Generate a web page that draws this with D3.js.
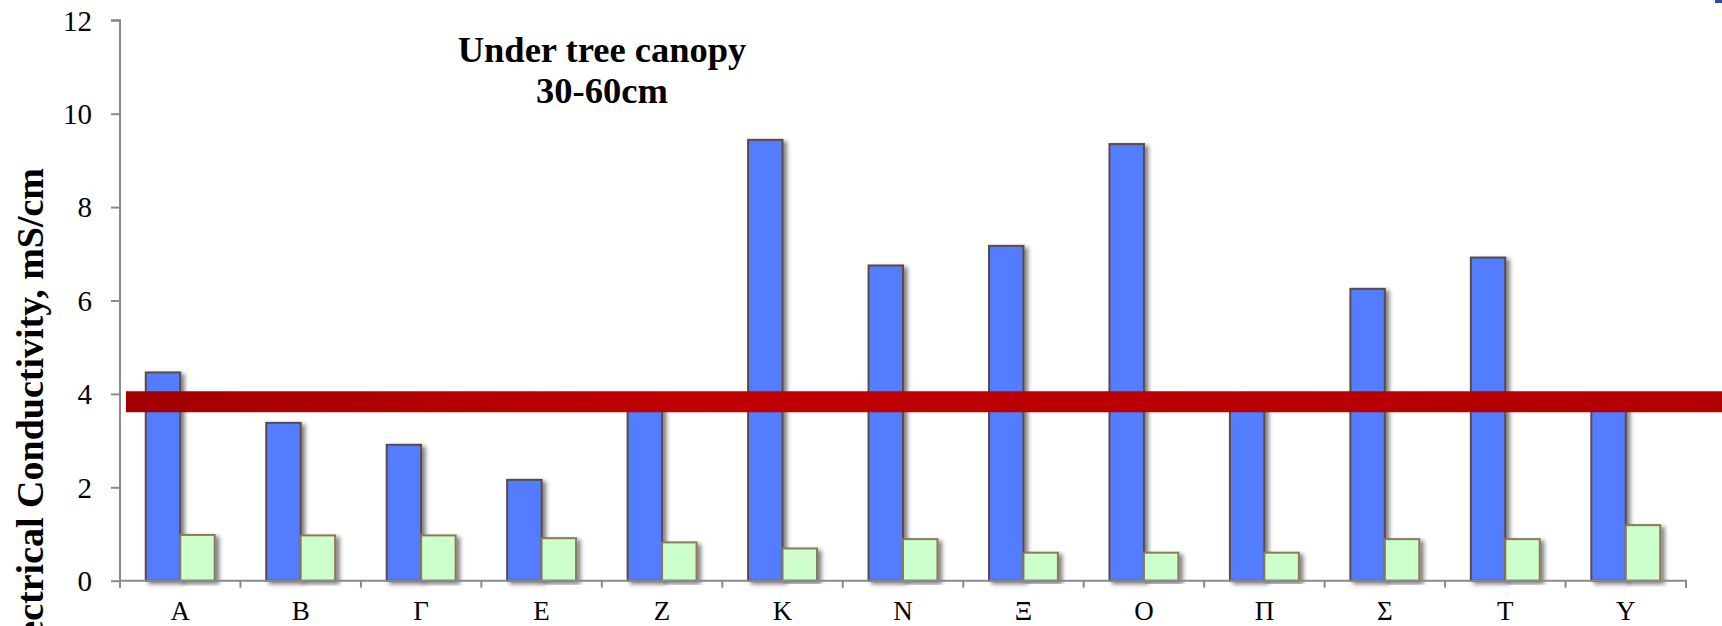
<!DOCTYPE html>
<html>
<head>
<meta charset="utf-8">
<script src="https://cdn.jsdelivr.net/npm/d3@7"></script>
<style>
  html, body { margin: 0; padding: 0; background: #fff; overflow: hidden; }
  svg { display: block; }
  svg text { font-family: "Liberation Serif", "Times New Roman", serif; }
</style>
</head>
<body>
<svg id="chart" width="1722" height="626"></svg>
<script>
// Sampling sites (Greek letters) and electrical conductivity, mS/cm
const categories = ["Α", "Β", "Γ", "Ε", "Ζ", "Κ", "Ν", "Ξ", "Ο", "Π", "Σ", "Τ", "Υ"];
const ecSeriesA = [4.46, 3.38, 2.91, 2.16, 3.85, 9.44, 6.75, 7.17, 9.35, 3.8, 6.25, 6.92, 3.75];
const ecSeriesB = [0.98, 0.97, 0.97, 0.91, 0.82, 0.69, 0.89, 0.60, 0.60, 0.60, 0.89, 0.89, 1.19];
const yTicks = [0, 2, 4, 6, 8, 10, 12];
const threshold = 3.83;   // salinity limit drawn as a horizontal band
const titleLines = ["Under tree canopy", "30-60cm"];
const yTitle = "Electrical Conductivity, mS/cm";

const svg = d3.select("#chart");
const W = 1722, H = 626;
const plot = { left: 120, right: 1686, top: 20.3, bottom: 580.7 };
const serif = "'Liberation Serif', 'Times New Roman', serif";

const x = d3.scaleBand().domain(categories).range([plot.left, plot.right]).paddingInner(0).paddingOuter(0);
const y = d3.scaleLinear().domain([0, 12]).range([plot.bottom, plot.top]);
const bw = x.bandwidth() * 0.286;

const defs = svg.append("defs");
const shadow = defs.append("filter").attr("id", "shadow")
  .attr("x", "-20%").attr("y", "-5%").attr("width", "160%").attr("height", "115%");
shadow.append("feDropShadow").attr("dx", 3.5).attr("dy", 2.5).attr("stdDeviation", 2.2)
  .attr("flood-color", "#000").attr("flood-opacity", 0.5);

const grad = defs.append("linearGradient").attr("id", "redband")
  .attr("gradientUnits", "userSpaceOnUse")
  .attr("x1", 126).attr("x2", W).attr("y1", 0).attr("y2", 0);
grad.append("stop").attr("offset", "0%").attr("stop-color", "#a20000");
grad.append("stop").attr("offset", "35%").attr("stop-color", "#c10000");
grad.append("stop").attr("offset", "100%").attr("stop-color", "#b20000");

// Bars
const groups = svg.append("g").selectAll("g").data(categories).join("g");
groups.append("rect")
  .attr("x", d => x(d) + x.bandwidth() / 2 - bw)
  .attr("y", (d, i) => y(ecSeriesA[i]))
  .attr("width", bw)
  .attr("height", (d, i) => y(0) - y(ecSeriesA[i]))
  .attr("fill", "#527bff")
  .attr("stroke", "#5a4c45")
  .attr("stroke-width", 2)
  .attr("filter", "url(#shadow)");
groups.append("rect")
  .attr("x", d => x(d) + x.bandwidth() / 2)
  .attr("y", (d, i) => y(ecSeriesB[i]))
  .attr("width", bw)
  .attr("height", (d, i) => y(0) - y(ecSeriesB[i]))
  .attr("fill", "#ccffcc")
  .attr("stroke", "#8c7a58")
  .attr("stroke-width", 2)
  .attr("filter", "url(#shadow)");

// Axes
const axisColor = "#8a8a8a";
const yAxis = svg.append("g").attr("transform", `translate(${plot.left},0)`)
  .call(d3.axisLeft(y).tickValues(yTicks).tickSize(9).tickPadding(19).tickFormat(d3.format("d")));
const xAxis = svg.append("g").attr("transform", `translate(0,${plot.bottom})`)
  .call(d3.axisBottom(x).tickSize(0).tickPadding(20));
[yAxis, xAxis].forEach(a => {
  a.attr("font-family", null).style("font-family", serif);
  a.select(".domain").attr("stroke", axisColor).attr("stroke-width", 2);
  a.selectAll(".tick line").attr("stroke", axisColor).attr("stroke-width", 2);
  a.selectAll("text").attr("fill", "#000").style("font-family", serif);
});
yAxis.select(".domain").attr("d", `M-9,${y(12)}H0V${plot.bottom}`);
yAxis.selectAll("text").attr("font-size", 29).attr("dy", "0.34em");
xAxis.select(".domain").attr("d", `M${plot.left},0H${plot.right}V7`);
xAxis.selectAll("text").attr("font-size", 27).attr("dy", "0.71em");
// Category separators below the axis
const bounds = categories.map(c => x(c)).concat([plot.right]);
xAxis.selectAll(".sep").data(bounds).join("line").attr("class", "sep")
  .attr("x1", d => d).attr("x2", d => d).attr("y1", 0).attr("y2", 7)
  .attr("stroke", axisColor).attr("stroke-width", 2);

// Threshold band
svg.append("line")
  .attr("x1", 126).attr("x2", W)
  .attr("y1", y(threshold)).attr("y2", y(threshold))
  .attr("stroke", "url(#redband)").attr("stroke-width", 21);

// Title
svg.append("text").attr("x", 602).attr("y", 61.7)
  .attr("text-anchor", "middle").attr("font-size", 36.5).attr("font-weight", "bold")
  .style("font-family", serif)
  .selectAll("tspan").data(titleLines).join("tspan")
  .attr("x", 602).attr("dy", (d, i) => i === 0 ? 0 : 41.6).text(d => d);

// Y axis title
svg.append("text")
  .attr("transform", "translate(43,168) rotate(-90)")
  .attr("text-anchor", "end")
  .attr("font-size", 38).attr("font-weight", "bold")
  .style("font-family", serif)
  .text(yTitle);

// Corner mark
svg.append("rect").attr("x", 1715).attr("y", 0).attr("width", 7).attr("height", 3).attr("fill", "#2a4aa8");
</script>
</body>
</html>
